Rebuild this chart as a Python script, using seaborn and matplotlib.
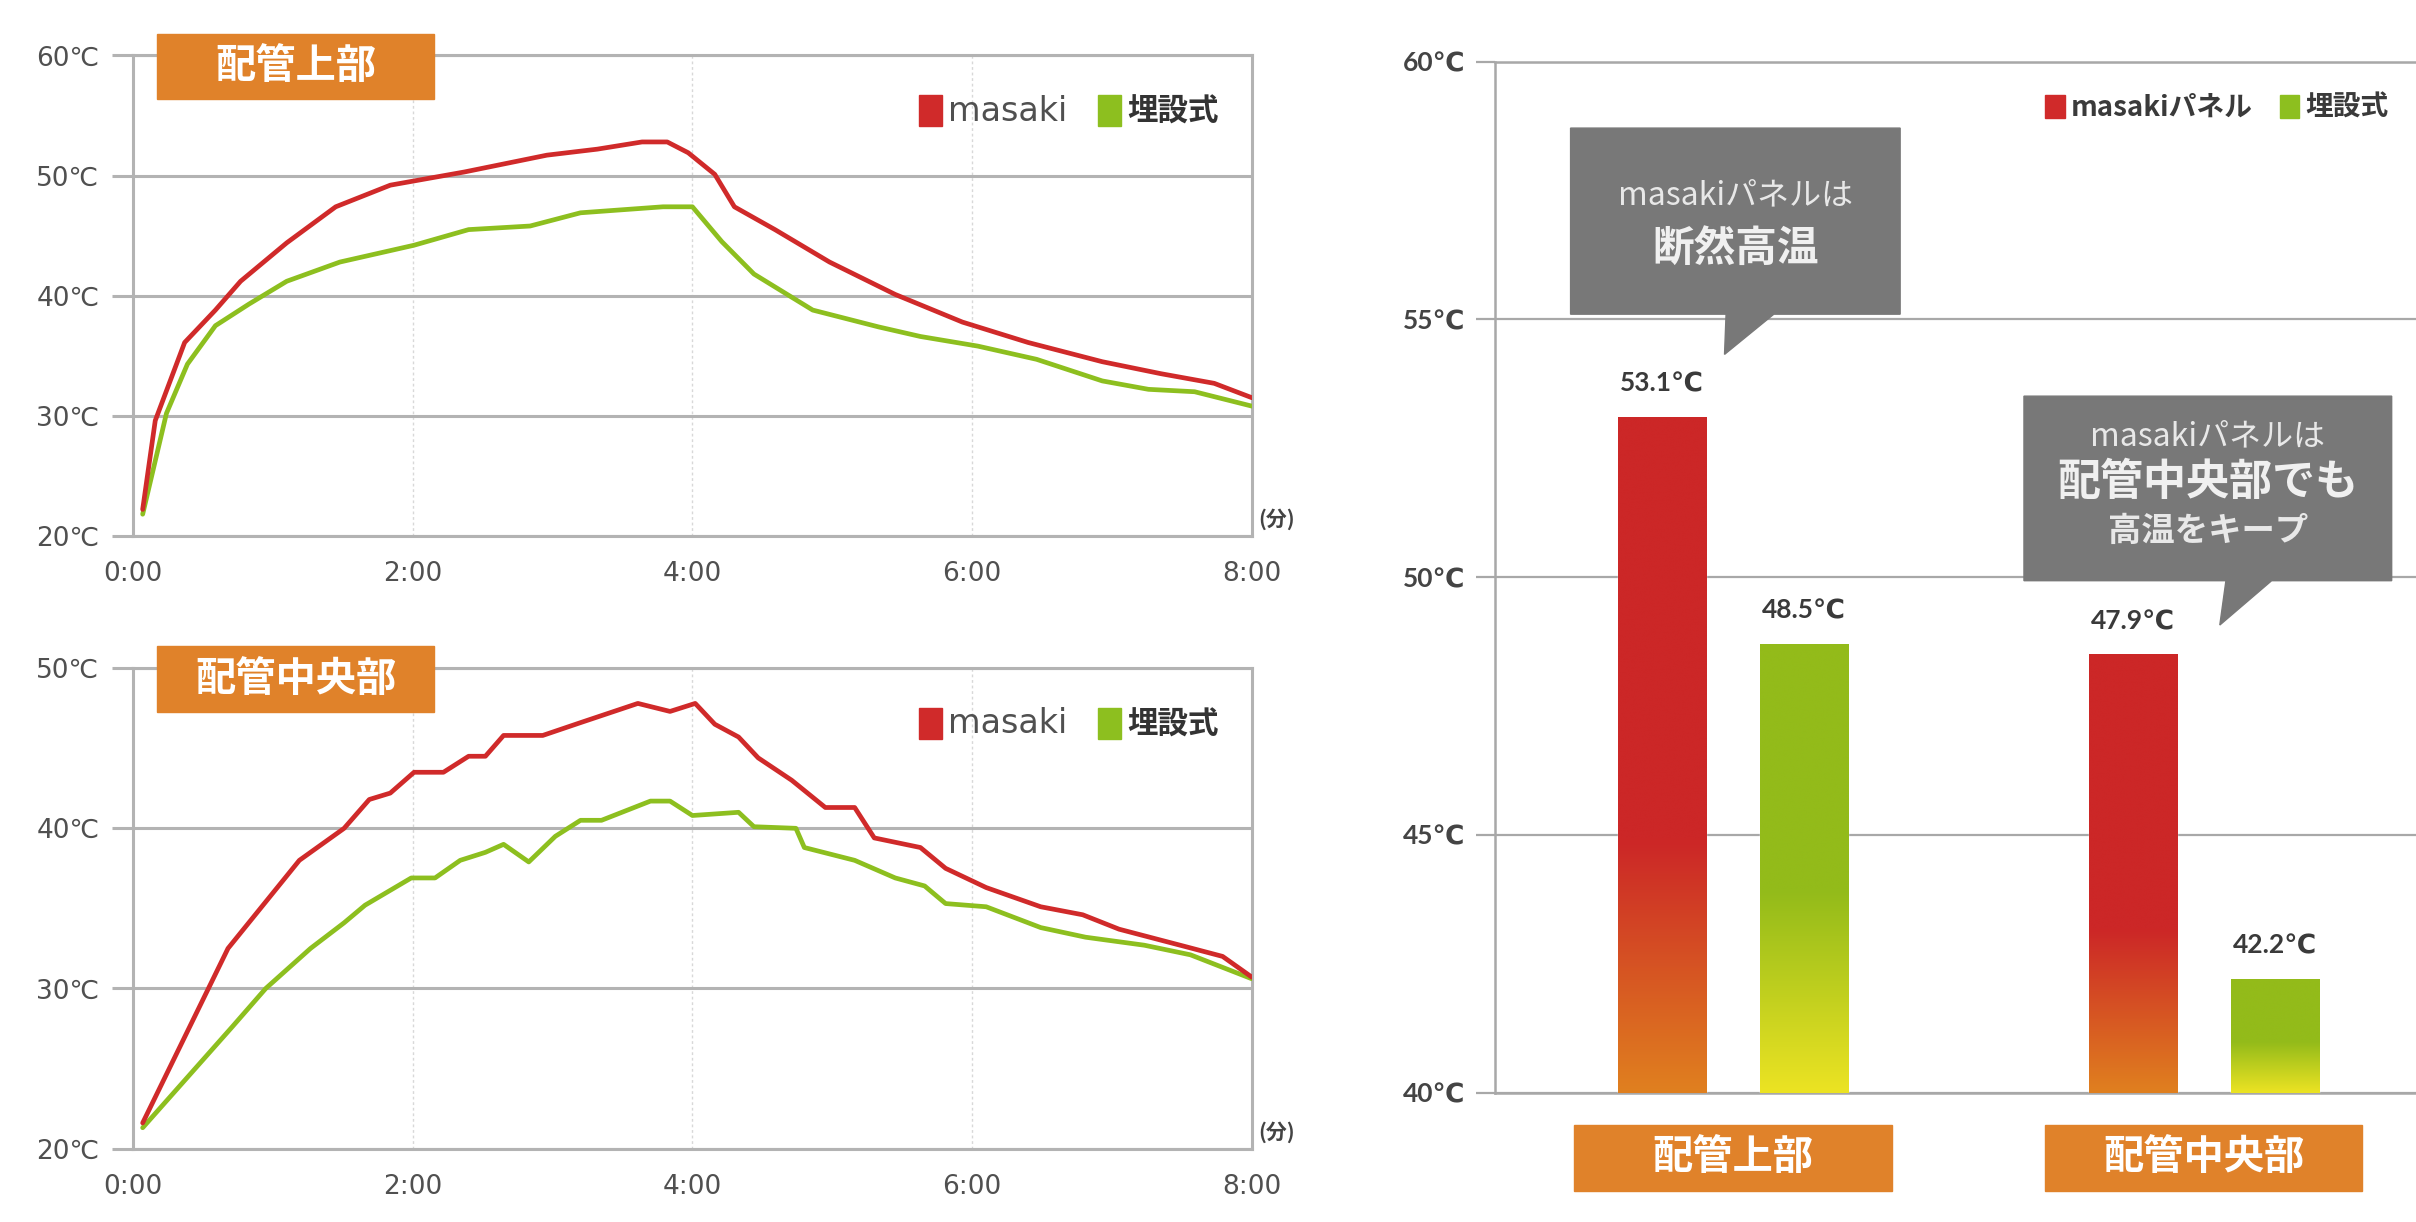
import numpy as np
import pandas as pd
import matplotlib
matplotlib.use("Agg")
import matplotlib.pyplot as plt
import matplotlib.transforms as mtransforms
from matplotlib.patches import Patch, Rectangle, Polygon
from matplotlib import font_manager
from matplotlib.colors import LinearSegmentedColormap
import seaborn as sns

# ---- data ----
time_ticks = [0, 2, 4, 6, 8]
time_labels = ["0:00", "2:00", "4:00", "6:00", "8:00"]

top_t_masaki = [0.07, 0.16, 0.37, 0.59, 0.77, 1.10, 1.45, 1.84, 2.37, 2.96, 3.32, 3.64, 3.82,
                3.97, 4.16, 4.30, 4.59, 4.98, 5.45, 5.93, 6.40, 6.93, 7.35, 7.73, 8.0]
top_masaki = [22.2, 29.6, 36.1, 38.8, 41.2, 44.4, 47.4, 49.2, 50.3, 51.7, 52.2, 52.8, 52.8,
              51.9, 50.1, 47.4, 45.5, 42.8, 40.1, 37.8, 36.1, 34.5, 33.5, 32.7, 31.5]
top_t_buried = [0.07, 0.24, 0.39, 0.59, 0.83, 1.10, 1.48, 2.01, 2.40, 2.84, 3.20, 3.79, 4.00,
                4.21, 4.44, 4.86, 5.33, 5.63, 6.04, 6.46, 6.93, 7.26, 7.59, 8.0]
top_buried = [21.8, 30.2, 34.3, 37.5, 39.3, 41.2, 42.8, 44.2, 45.5, 45.8, 46.9, 47.4, 47.4,
              44.5, 41.8, 38.8, 37.4, 36.6, 35.8, 34.7, 32.9, 32.2, 32.0, 30.8]

mid_t_masaki = [0.07, 0.68, 1.19, 1.51, 1.69, 1.84, 2.01, 2.22, 2.40, 2.52, 2.65, 2.93, 3.20,
                3.61, 3.84, 4.02, 4.16, 4.33, 4.47, 4.71, 4.95, 5.16, 5.30, 5.63, 5.81, 6.10,
                6.49, 6.79, 7.05, 7.53, 7.79, 8.0]
mid_masaki = [21.6, 32.5, 38.0, 40.0, 41.8, 42.2, 43.5, 43.5, 44.5, 44.5, 45.8, 45.8, 46.6,
              47.8, 47.3, 47.8, 46.5, 45.7, 44.4, 43.0, 41.3, 41.3, 39.4, 38.8, 37.5, 36.3,
              35.1, 34.6, 33.7, 32.6, 32.0, 30.7]
mid_t_buried = [0.07, 0.71, 0.95, 1.27, 1.51, 1.66, 1.99, 2.16, 2.34, 2.52, 2.65, 2.83, 3.02,
                3.20, 3.35, 3.70, 3.84, 4.00, 4.33, 4.44, 4.74, 4.80, 5.16, 5.45, 5.66, 5.81,
                6.10, 6.49, 6.81, 7.23, 7.56, 8.0]
mid_buried = [21.3, 27.6, 30.0, 32.5, 34.1, 35.2, 36.9, 36.9, 38.0, 38.5, 39.0, 37.9, 39.5,
              40.5, 40.5, 41.7, 41.7, 40.8, 41.0, 40.1, 40.0, 38.8, 38.0, 36.9, 36.4, 35.3,
              35.1, 33.8, 33.2, 32.7, 32.1, 30.6]

bar_positions = ["配管上部", "配管上部", "配管中央部", "配管中央部"]
bar_series = ["masakiパネル", "埋設式", "masakiパネル", "埋設式"]
bar_values = [53.1, 48.7, 48.5, 42.2]
bar_labels = ["53.1℃", "48.5℃", "47.9℃", "42.2℃"]

RED = "#d02a2a"
GREEN = "#8dbf1f"
ORANGE = "#e0822a"
GRID = "#b3b3b3"
BOX = "#787878"

sns.set_theme(style="white")
names = {f.name for f in font_manager.fontManager.ttflist}
narrow = "Liberation Sans Narrow" if "Liberation Sans Narrow" in names else "DejaVu Sans"
plt.rcParams["font.family"] = ["Noto Sans CJK JP", "DejaVu Sans"]
num_font = [narrow, "DejaVu Sans"]
right_font = ["Lato", "DejaVu Sans"]

fig = plt.figure(figsize=(24.16, 12.22), dpi=100)
ax_top = fig.add_axes([0.0550, 0.5615, 0.4632, 0.3931])
ax_mid = fig.add_axes([0.0550, 0.0601, 0.4632, 0.3931])
ax_bar = fig.add_axes([0.6188, 0.1059, 0.3812, 0.8437])


def line_panel(ax, tm, ym, tb, yb, yticks, title):
    sns.lineplot(x=tm, y=ym, ax=ax, color=RED, linewidth=3.4, zorder=4)
    sns.lineplot(x=tb, y=yb, ax=ax, color=GREEN, linewidth=3.4, zorder=3)
    ax.set_xlim(0, 8)
    ax.set_ylim(yticks[0], yticks[-1])
    ax.set_xticks(time_ticks)
    ax.set_xticklabels(time_labels, fontfamily=num_font)
    ax.set_yticks(yticks)
    ax.set_yticklabels([f"{v}℃" for v in yticks], fontfamily=num_font)
    ax.set_xlabel("")
    ax.set_ylabel("")
    ax.yaxis.grid(True, color=GRID, linewidth=2.2)
    ax.xaxis.grid(True, color="#d8d8d8", linewidth=1.0, linestyle=(0, (2, 2)))
    for s in ax.spines.values():
        s.set_color(GRID)
        s.set_linewidth(2.2)
    ax.tick_params(axis="y", length=15, width=2.2, color=GRID, pad=9,
                   labelsize=19, labelcolor="#505050", left=True)
    ax.tick_params(axis="x", length=0, pad=18, labelsize=19, labelcolor="#505050")
    ax.add_patch(Rectangle((0.0219, 0.9084), 0.2468, 0.137, transform=ax.transAxes,
                           color=ORANGE, clip_on=False, zorder=6))
    ax.text(0.1455, 0.977, title, transform=ax.transAxes, ha="center", va="center",
            color="white", fontsize=29, fontweight="bold", zorder=7)
    ax.text(1.006, 0.035, "(分)", transform=ax.transAxes, ha="left", va="center",
            fontsize=15, fontweight="bold", color="#444444")
    handles = [Patch(color=RED), Patch(color=GREEN)]
    leg = ax.legend(handles, ["masaki", "埋設式"], loc="upper right",
                    bbox_to_anchor=(0.984, 0.95), ncol=2, frameon=False, fontsize=22,
                    handlelength=0.75, handleheight=1.2, handletextpad=0.2,
                    columnspacing=1.0, borderpad=0)
    leg.get_texts()[0].set_color("#505050")
    leg.get_texts()[0].set_fontfamily(num_font)
    leg.get_texts()[0].set_fontsize(24)
    leg.get_texts()[1].set_fontweight("bold")
    leg.get_texts()[1].set_color("#333333")


line_panel(ax_top, top_t_masaki, top_masaki, top_t_buried, top_buried,
           [20, 30, 40, 50, 60], "配管上部")
line_panel(ax_mid, mid_t_masaki, mid_masaki, mid_t_buried, mid_buried,
           [20, 30, 40, 50], "配管中央部")

# ---- bar chart ----
df = pd.DataFrame({"pos": bar_positions, "series": bar_series, "temp": bar_values})
sns.barplot(data=df, x="pos", y="temp", hue="series", palette=[RED, GREEN],
            width=0.604, gap=0.38, legend=False, ax=ax_bar, zorder=3)

# red / green bars fade towards orange / yellow at the bottom
grads = [("#cc2727", "#e0801f", 0.37), ("#93bb1a", "#ece323", 0.45)]
bars = sorted([p for p in ax_bar.patches], key=lambda p: p.get_x())
for i, p in enumerate(bars):
    top_c, bot_c, frac = grads[i % 2]
    cmap = LinearSegmentedColormap.from_list("g", [(0, bot_c), (frac, top_c), (1, top_c)])
    x0 = p.get_x()
    h = p.get_height()
    grad = np.linspace(1, 0, 256).reshape(-1, 1)
    ax_bar.imshow(grad, cmap=cmap, aspect="auto", extent=(x0, x0 + p.get_width(), 40, h),
                  zorder=4, interpolation="bicubic")
    ax_bar.annotate(bar_labels[i], (x0 + p.get_width() / 2, h), xytext=(0, 24),
                    textcoords="offset points", ha="center", va="center",
                    fontsize=19, fontweight="bold", color="#3a3a3a", fontfamily=right_font)

ax_bar.set_xlim(-0.5055, 1.4507)
ax_bar.set_ylim(40, 60)
ax_bar.set_yticks([40, 45, 50, 55, 60])
ax_bar.set_yticklabels([f"{v}℃" for v in [40, 45, 50, 55, 60]], fontfamily=right_font,
                       fontweight="bold")
ax_bar.set_xticks([])
ax_bar.set_xlabel("")
ax_bar.set_ylabel("")
ax_bar.yaxis.grid(True, color="#a8a8a8", linewidth=1.6)
ax_bar.spines["right"].set_visible(False)
for k in ["left", "top", "bottom"]:
    ax_bar.spines[k].set_color("#a8a8a8")
    ax_bar.spines[k].set_linewidth(1.8)
ax_bar.tick_params(axis="y", length=14, width=1.6, color="#a8a8a8", pad=7,
                   labelsize=19, labelcolor="#444444", left=True)

# category label boxes under the bars
trans = mtransforms.blended_transform_factory(ax_bar.transData, ax_bar.transAxes)
for c, name in enumerate(["配管上部", "配管中央部"]):
    ax_bar.add_patch(Rectangle((c - 0.337, -0.0954), 0.674, 0.064, transform=trans,
                               color=ORANGE, clip_on=False, zorder=5))
    ax_bar.text(c, -0.0634, name, transform=trans, ha="center", va="center",
                color="white", fontsize=29, fontweight="bold", zorder=6)

# callouts
callouts = [
    [(-0.345, 58.71), (0.355, 58.71), (0.355, 55.10), (0.0867, 55.10), (-0.018, 54.32),
     (-0.0147, 55.10), (-0.345, 55.10)],
    [(0.618, 53.51), (1.399, 53.51), (1.399, 49.93), (1.144, 49.93), (1.034, 49.07),
     (1.047, 49.93), (0.618, 49.93)],
]
for verts in callouts:
    ax_bar.add_patch(Polygon(verts, closed=True, color=BOX, zorder=6))

ax_bar.text(0.006, 57.41, "masakiパネルは", ha="center", va="center", color="#e8e8e8",
            fontsize=23, zorder=7)
ax_bar.text(0.006, 56.36, "断然高温", ha="center", va="center", color="#f0f0f0",
            fontsize=30, fontweight="bold", zorder=7)
ax_bar.text(1.009, 52.72, "masakiパネルは", ha="center", va="center", color="#e8e8e8",
            fontsize=23, zorder=7)
ax_bar.text(1.009, 51.85, "配管中央部でも", ha="center", va="center", color="#f0f0f0",
            fontsize=31, fontweight="bold", zorder=7)
ax_bar.text(1.009, 50.88, "高温をキープ", ha="center", va="center", color="#e8e8e8",
            fontsize=24, fontweight="bold", zorder=7)

handles = [Patch(color=RED), Patch(color=GREEN)]
leg = ax_bar.legend(handles, ["masakiパネル", "埋設式"], loc="upper right",
                    bbox_to_anchor=(0.985, 0.982), ncol=2, frameon=False, fontsize=20,
                    handlelength=0.7, handleheight=0.9, handletextpad=0.2,
                    columnspacing=1.0, borderpad=0)
for t in leg.get_texts():
    t.set_fontweight("bold")
    t.set_color("#3a3a3a")

fig.savefig("out.png", dpi=100, facecolor="white")
